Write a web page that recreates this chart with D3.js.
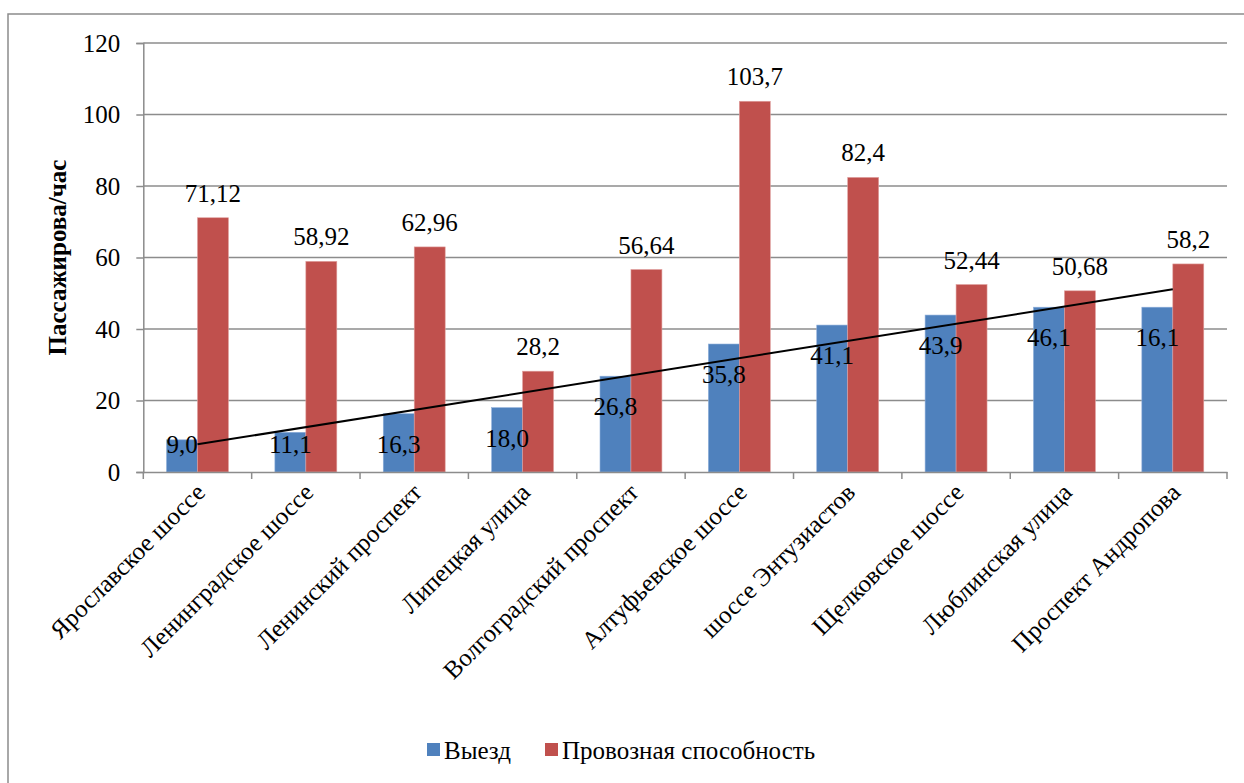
<!DOCTYPE html>
<html>
<head>
<meta charset="utf-8">
<script src="https://cdn.jsdelivr.net/npm/d3@7/dist/d3.min.js"></script>
<style>
  html, body { margin: 0; padding: 0; background: #fff; }
  svg text { font-family: "Liberation Serif", Tinos, "Times New Roman", Times, "DejaVu Serif", serif; }
</style>
</head>
<body>
<svg id="chart" width="1244" height="783"></svg>
<script>
// Routes (category axis)
const categories = [
  "Ярославское шоссе", "Ленинградское шоссе", "Ленинский проспект", "Липецкая улица",
  "Волгоградский проспект", "Алтуфьевское шоссе", "шоссе Энтузиастов", "Щелковское шоссе",
  "Люблинская улица", "Проспект Андропова"
];
// Series values, passengers per hour
const departures = [9.0, 11.1, 16.3, 18.0, 26.8, 35.8, 41.1, 43.9, 46.1, 46.1];
const capacity = [71.12, 58.92, 62.96, 28.2, 56.64, 103.7, 82.4, 52.44, 50.68, 58.2];
// Data label texts as printed on the chart
const departureLabels = ["9,0", "11,1", "16,3", "18,0", "26,8", "35,8", "41,1", "43,9", "46,1", "16,1"];
const capacityLabels = ["71,12", "58,92", "62,96", "28,2", "56,64", "103,7", "82,4", "52,44", "50,68", "58,2"];
const yTicks = [0, 20, 40, 60, 80, 100, 120];
const seriesNames = ["Выезд", "Провозная способность"];
const yTitle = "Пассажирова/час";

const colors = { dep: "#4F81BD", cap: "#C0504D", grid: "#8C8C8C" };
const FS = 25;
const FONT = "'Liberation Serif', Tinos, 'Times New Roman', Times, 'DejaVu Serif', serif";

const svg = d3.select("#chart");

// Outer chart frame
svg.append("rect")
  .attr("x", 8).attr("y", 14).attr("width", 1260).attr("height", 800)
  .attr("fill", "none").attr("stroke", "#8C8C8C").attr("stroke-width", 1.5);

const plot = { left: 143.3, right: 1227, top: 43, bottom: 472 };

const x = d3.scaleBand().domain(categories).range([plot.left, plot.right]).paddingInner(0).paddingOuter(0);
const y = d3.scaleLinear().domain([0, 120]).range([plot.bottom, plot.top]);
const inner = d3.scaleBand().domain(["dep", "cap"]).range([0, x.bandwidth()]).paddingInner(0).paddingOuter(0.75);

// Horizontal gridlines
svg.append("g").selectAll("line").data(yTicks.filter(t => t > 0)).join("line")
  .attr("x1", plot.left).attr("x2", plot.right)
  .attr("y1", d => y(d)).attr("y2", d => y(d))
  .attr("stroke", colors.grid).attr("stroke-width", 1.5);

// Y axis
const yAxis = svg.append("g")
  .attr("transform", `translate(${plot.left},0)`)
  .call(d3.axisLeft(y).tickValues(yTicks).tickSize(7).tickPadding(16).tickFormat(d3.format("d")));
yAxis.attr("font-family", FONT).attr("font-size", FS);
yAxis.select(".domain").attr("stroke", colors.grid).attr("stroke-width", 1.5);
yAxis.selectAll(".tick line").attr("stroke", colors.grid).attr("stroke-width", 1.5);
yAxis.selectAll(".tick text").attr("font-size", FS).attr("font-family", FONT).attr("fill", "#000");

// Bars
const groups = svg.append("g").selectAll("g").data(categories).join("g")
  .attr("transform", d => `translate(${x(d)},0)`);

groups.append("rect")
  .attr("x", inner("dep")).attr("width", inner.bandwidth())
  .attr("y", (d, i) => y(departures[i]))
  .attr("height", (d, i) => y(0) - y(departures[i]))
  .attr("fill", colors.dep).attr("stroke", "#8EAEDA").attr("stroke-width", 0.6);

groups.append("rect")
  .attr("x", inner("cap")).attr("width", inner.bandwidth())
  .attr("y", (d, i) => y(capacity[i]))
  .attr("height", (d, i) => y(0) - y(capacity[i]))
  .attr("fill", colors.cap).attr("stroke", "#E0A09E").attr("stroke-width", 0.6);

// X axis
const xAxis = svg.append("g")
  .attr("transform", `translate(0,${plot.bottom})`)
  .call(d3.axisBottom(x).tickSize(0).tickFormat(""));
xAxis.select(".domain").attr("stroke", colors.grid).attr("stroke-width", 1.5);
xAxis.selectAll(".tick").remove();
const boundaries = d3.range(categories.length + 1).map(i => plot.left + i * x.bandwidth());
xAxis.selectAll("line.sep").data(boundaries).join("line").attr("class", "sep")
  .attr("x1", d => d).attr("x2", d => d).attr("y1", 0).attr("y2", 7)
  .attr("stroke", colors.grid).attr("stroke-width", 1.5);

// Category labels, rotated
svg.append("g").selectAll("text").data(categories).join("text")
  .attr("transform", d => `translate(${x(d) + x.bandwidth() / 2 + 9},${plot.bottom + 22}) rotate(-45)`)
  .attr("text-anchor", "end")
  .attr("font-family", FONT).attr("font-size", FS).attr("fill", "#000")
  .text(d => d);

// Linear trend over the departure series
const n = departures.length;
const xs = d3.range(1, n + 1);
const mx = d3.mean(xs), my = d3.mean(departures);
const slope = d3.sum(xs, (v, i) => (v - mx) * (departures[i] - my)) / d3.sum(xs, v => (v - mx) ** 2);
const icpt = my - slope * mx;
const trend = xs.map((v, i) => ({ cat: categories[i], val: icpt + slope * v }));
svg.append("path")
  .datum([trend[0], trend[n - 1]])
  .attr("d", d3.line().x(d => x(d.cat) + x.bandwidth() / 2).y(d => y(d.val)))
  .attr("fill", "none").attr("stroke", "#000").attr("stroke-width", 2);

// Data labels
groups.append("text")
  .attr("x", inner("dep") + inner.bandwidth() / 2)
  .attr("y", (d, i) => Math.min(y(departures[i]) + 39, y(0) - 19))
  .attr("text-anchor", "middle")
  .attr("font-family", FONT).attr("font-size", FS).attr("fill", "#000")
  .text((d, i) => departureLabels[i]);

groups.append("text")
  .attr("x", inner("cap") + inner.bandwidth() / 2)
  .attr("y", (d, i) => y(capacity[i]) - 16)
  .attr("text-anchor", "middle")
  .attr("font-family", FONT).attr("font-size", FS).attr("fill", "#000")
  .text((d, i) => capacityLabels[i]);

// Y axis title
svg.append("text")
  .attr("transform", `translate(66,${(plot.top + plot.bottom) / 2}) rotate(-90)`)
  .attr("text-anchor", "middle")
  .attr("font-family", FONT).attr("font-size", FS).attr("font-weight", "bold")
  .attr("fill", "#000")
  .text(yTitle);

// Legend
const legend = svg.append("g");
const legendItems = [
  { name: seriesNames[0], color: colors.dep, x: 427 },
  { name: seriesNames[1], color: colors.cap, x: 545 }
];
legend.selectAll("rect").data(legendItems).join("rect")
  .attr("x", d => d.x).attr("y", 743).attr("width", 13).attr("height", 13)
  .attr("fill", d => d.color);
legend.selectAll("text").data(legendItems).join("text")
  .attr("x", d => d.x + 17).attr("y", 759)
  .attr("font-family", FONT).attr("font-size", FS).attr("fill", "#000")
  .text(d => d.name);
</script>
</body>
</html>
